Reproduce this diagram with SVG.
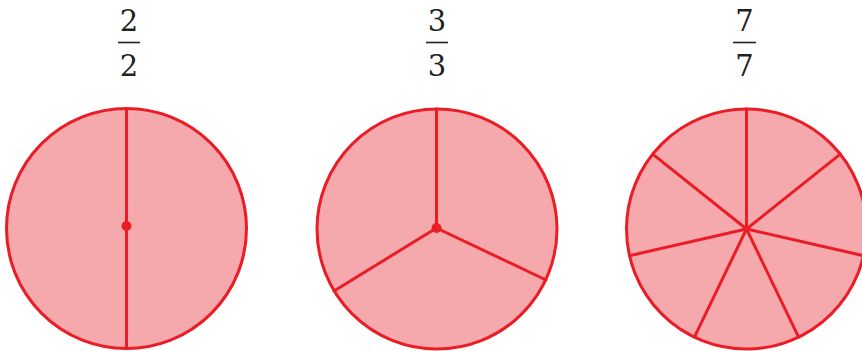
<svg xmlns="http://www.w3.org/2000/svg" width="862" height="351" viewBox="0 0 862 351">
<style>
.disc{fill:#f6a9ad;stroke:#ea1d27;stroke-width:3}
.sp{stroke:#ea1d27;stroke-width:3;fill:none;stroke-linecap:round}
.dot{fill:#ea1d27}
.num{font-family:'DejaVu Serif',serif;font-size:29px;fill:#231f20;text-anchor:middle}
.bar{stroke:#231f20;stroke-width:1.6}
</style>
<rect width="862" height="351" fill="#ffffff"/>
<g id="frac1">
<text class="num" x="129" y="31">2</text>
<line class="bar" x1="118" y1="42.5" x2="140" y2="42.5"/>
<text class="num" x="129" y="76">2</text>
</g>
<g id="frac2">
<text class="num" x="437" y="31">3</text>
<line class="bar" x1="426" y1="42.5" x2="448" y2="42.5"/>
<text class="num" x="437" y="76">3</text>
</g>
<g id="frac3">
<text class="num" x="744.5" y="31">7</text>
<line class="bar" x1="733" y1="42.5" x2="756" y2="42.5"/>
<text class="num" x="744.5" y="76">7</text>
</g>
<g id="circle1">
<circle class="disc" cx="126.5" cy="228.5" r="120"/>
<line class="sp" x1="126.5" y1="108.5" x2="126.5" y2="348.5"/>
<circle class="dot" cx="126.5" cy="226" r="5"/>
</g>
<g id="circle2">
<circle class="disc" cx="437" cy="229" r="120"/>
<line class="sp" x1="436.5" y1="109" x2="436.5" y2="228"/>
<line class="sp" x1="436.5" y1="228" x2="334" y2="291"/>
<line class="sp" x1="436.5" y1="228" x2="546" y2="280"/>
<circle class="dot" cx="436.5" cy="228" r="5"/>
</g>
<g id="circle3">
<circle class="disc" cx="746.5" cy="229" r="120"/>
<g class="sp">
<line x1="746.5" y1="229" x2="746.5" y2="109"/>
<line x1="746.5" y1="229" x2="840.3" y2="154.2"/>
<line x1="746.5" y1="229" x2="863.5" y2="255.7"/>
<line x1="746.5" y1="229" x2="798.6" y2="337.1"/>
<line x1="746.5" y1="229" x2="694.4" y2="337.1"/>
<line x1="746.5" y1="229" x2="629.5" y2="255.7"/>
<line x1="746.5" y1="229" x2="652.7" y2="154.2"/>
</g>
</g>
</svg>
